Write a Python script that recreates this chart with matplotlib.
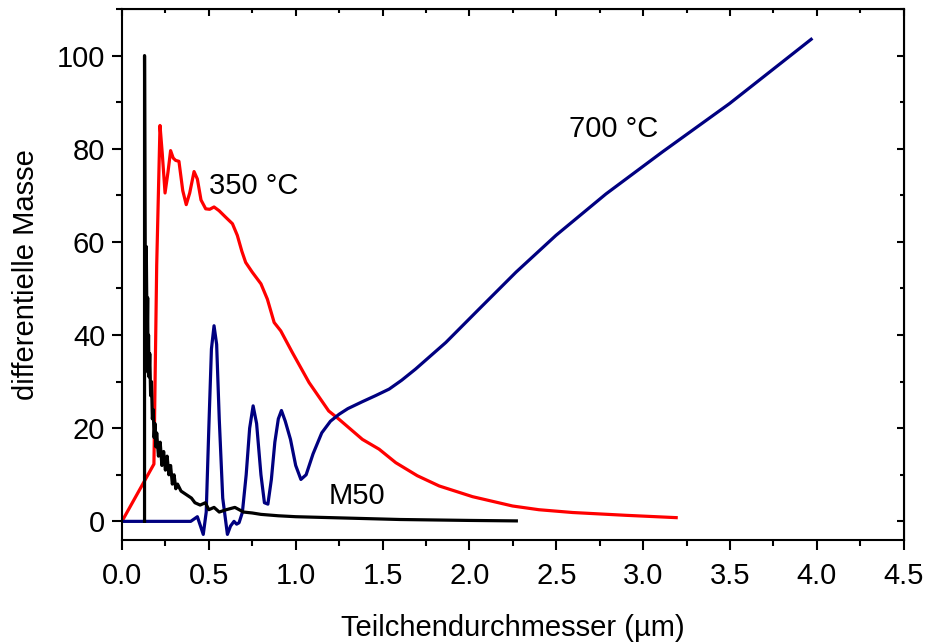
import matplotlib
matplotlib.use("Agg")
import matplotlib.pyplot as plt
from matplotlib.ticker import MultipleLocator

plt.rcParams['font.family'] = ['Liberation Sans', 'DejaVu Sans']

# M50 (black)
m50_x = [0.13, 0.13, 0.135, 0.14, 0.145, 0.148, 0.15, 0.153, 0.156, 0.16, 0.165, 0.17,
         0.175, 0.18, 0.185, 0.19, 0.195, 0.20, 0.21, 0.22, 0.23, 0.24, 0.25, 0.26,
         0.27, 0.28, 0.29, 0.30, 0.31, 0.32, 0.34, 0.36, 0.38, 0.40, 0.42, 0.45,
         0.48, 0.50, 0.53, 0.56, 0.60, 0.65, 0.70, 0.75, 0.80, 0.90, 1.00, 1.20,
         1.40, 1.60, 1.80, 2.00, 2.27]
m50_y = [0, 100, 35, 59, 38, 48, 32, 40, 31, 36, 27, 30,
         22, 24, 18, 21, 16, 19, 14, 17, 12, 15, 11, 14,
         10, 12, 8, 10, 7, 8, 6.5, 6, 5.5, 5, 4, 3.5,
         4, 2.5, 3, 2, 2.5, 3, 2, 1.8, 1.5, 1.2, 1.0, 0.8,
         0.6, 0.4, 0.3, 0.2, 0.1]

# 350 °C (red)
r350_x = [0.0, 0.184, 0.20, 0.219, 0.232, 0.248, 0.265, 0.28, 0.295, 0.309, 0.328,
          0.35, 0.37, 0.39, 0.415, 0.434, 0.455, 0.482, 0.505,
          0.53, 0.559, 0.597, 0.636, 0.664, 0.69, 0.712, 0.75, 0.80, 0.837, 0.876,
          0.914, 0.98, 1.077, 1.19, 1.25, 1.384, 1.48, 1.576, 1.70, 1.826, 2.018,
          2.248, 2.40, 2.594, 2.90, 3.19]
r350_y = [0.0, 12.3, 55.0, 85.0, 79.0, 70.5, 75.0, 79.6, 78.0, 77.5, 77.3,
          71.0, 68.0, 70.5, 75.1, 73.5, 69.0, 67.1, 67.0,
          67.5, 66.7, 65.3, 63.9, 61.4, 58.0, 55.6, 53.5, 51.0, 47.7, 42.7,
          40.9, 36.3, 29.8, 23.7, 21.9, 17.6, 15.5, 12.6, 9.8, 7.6, 5.3,
          3.3, 2.5, 1.9, 1.3, 0.8]

# 700 °C (navy)
b700_x = [0.0, 0.396, 0.415, 0.434, 0.452, 0.468, 0.485, 0.50, 0.515, 0.53, 0.545,
          0.56, 0.58, 0.607, 0.625, 0.645, 0.66, 0.674, 0.693, 0.715, 0.735,
          0.755, 0.775, 0.80, 0.82, 0.84, 0.86, 0.88, 0.90, 0.918, 0.94, 0.97,
          1.00, 1.03, 1.06, 1.10, 1.15, 1.20, 1.25, 1.30, 1.384, 1.46, 1.538,
          1.61, 1.69, 1.864, 2.056, 2.268, 2.498, 2.786, 3.11, 3.497, 3.967]
b700_y = [0.0, 0.0, 0.5, 1.0, -1.0, -2.8, 2.0, 20.0, 37.0, 42.0, 38.0,
          22.0, 5.0, -2.8, -1.0, 0.0, -0.6, -0.3, 1.9, 10.0, 20.0,
          24.8, 21.0, 10.0, 4.0, 3.7, 9.0, 17.0, 22.0, 23.8, 21.5, 17.6,
          12.0, 9.0, 10.0, 14.5, 19.0, 21.5, 23.0, 24.2, 25.7, 27.0, 28.4,
          30.3, 32.7, 38.4, 45.6, 53.5, 61.4, 70.3, 79.3, 89.7, 103.5]

x_ticks = [0.0, 0.5, 1.0, 1.5, 2.0, 2.5, 3.0, 3.5, 4.0, 4.5]
y_ticks = [0, 20, 40, 60, 80, 100]

FS = 21

fig = plt.figure(figsize=(9.26, 6.44), dpi=100)
ax = fig.add_axes([0.1317, 0.1615, 0.976 - 0.1317, 0.986 - 0.1615])

ax.plot(r350_x, r350_y, color='#ff0000', lw=2.3)
ax.plot(b700_x, b700_y, color='#000080', lw=2.3)
ax.plot(m50_x, m50_y, color='black', lw=2.3)

ax.set_xlim(0, 4.5)
ax.set_ylim(-4, 110)
ax.set_xticks(x_ticks)
ax.set_xticklabels([f"{v:.1f}" for v in x_ticks])
ax.set_yticks(y_ticks)
ax.xaxis.set_minor_locator(MultipleLocator(0.25))
ax.yaxis.set_minor_locator(MultipleLocator(10))

ax.tick_params(axis='both', which='major', direction='out', length=7, width=1.5,
               labelsize=FS, top=False, right=False)
ax.tick_params(axis='x', which='major', pad=9)
ax.tick_params(axis='y', which='major', pad=5)
ax.tick_params(axis='both', which='minor', direction='out', length=4, width=1.5,
               top=False, right=False)
for s in ax.spines.values():
    s.set_linewidth(1.5)

# inward ticks on top/right
axt = ax.secondary_xaxis('top')
axt.set_xticks(x_ticks)
axt.xaxis.set_minor_locator(MultipleLocator(0.25))
axt.tick_params(which='major', direction='in', length=5, width=1.5)
axt.tick_params(which='minor', direction='in', length=3, width=1.5)
axt.set_xticklabels([])
axr = ax.secondary_yaxis('right')
axr.set_yticks(y_ticks)
axr.yaxis.set_minor_locator(MultipleLocator(10))
axr.tick_params(which='major', direction='in', length=5, width=1.5)
axr.tick_params(which='minor', direction='in', length=3, width=1.5)
axr.set_yticklabels([])

ax.set_xlabel("Teilchendurchmesser (µm)", fontsize=FS, labelpad=17)
ax.set_ylabel("differentielle Masse", fontsize=FS, labelpad=12)

ax.text(0.50, 72, "350 °C", fontsize=FS, va='center', ha='left')
ax.text(2.575, 84.3, "700 °C", fontsize=FS, va='center', ha='left')
ax.text(1.19, 5.4, "M50", fontsize=FS, va='center', ha='left')

fig.savefig("out.png", dpi=100)
